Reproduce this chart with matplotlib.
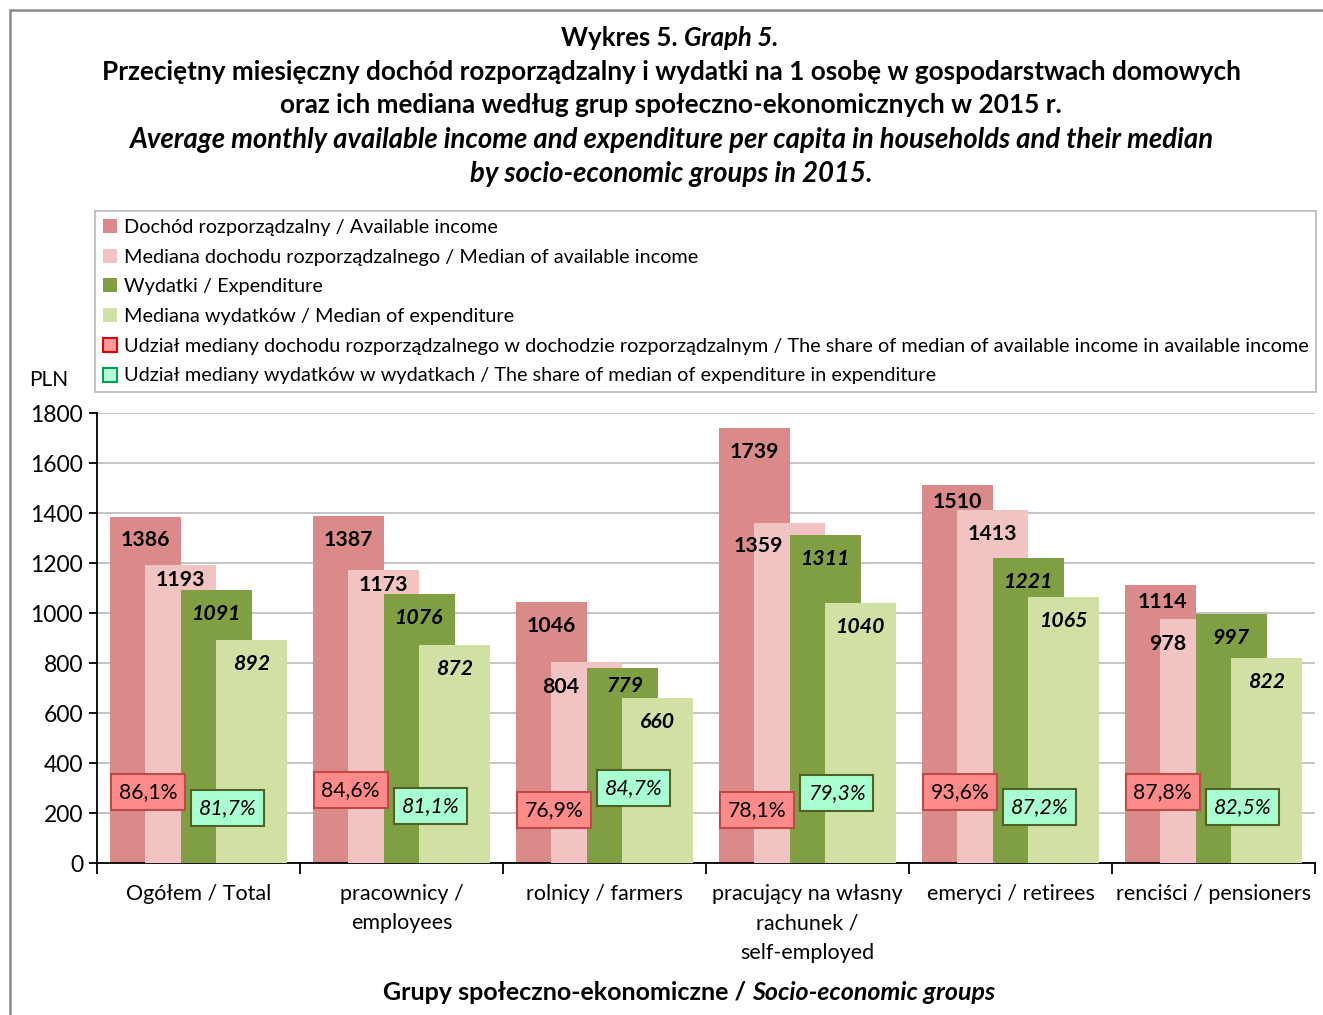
import matplotlib
matplotlib.use('Agg')
import matplotlib.pyplot as plt
import numpy as np
from matplotlib.patches import Patch, Rectangle

plt.rcParams['font.family'] = ['Lato', 'DejaVu Sans']

# ---------------- data ----------------
categories = ['Ogółem / Total', 'pracownicy /\nemployees', 'rolnicy / farmers',
              'pracujący na własny\nrachunek /\nself-employed', 'emeryci / retirees',
              'renciści / pensioners']
income = [1386, 1387, 1046, 1739, 1510, 1114]
income_median = [1193, 1173, 804, 1359, 1413, 978]
expenditure = [1091, 1076, 779, 1311, 1221, 997]
expenditure_median = [892, 872, 660, 1040, 1065, 822]
share_income = [86.1, 84.6, 76.9, 78.1, 93.6, 87.8]
share_expenditure = [81.7, 81.1, 84.7, 79.3, 87.2, 82.5]
y_ticks = [0, 200, 400, 600, 800, 1000, 1200, 1400, 1600, 1800]

series_labels = ['Dochód rozporządzalny / Available income',
                 'Mediana dochodu rozporządzalnego / Median of available income',
                 'Wydatki / Expenditure',
                 'Mediana wydatków / Median of expenditure']
share_labels = ['Udział mediany dochodu rozporządzalnego w dochodzie rozporządzalnym / The share of median of available income in available income',
                'Udział mediany wydatków w wydatkach / The share of median of expenditure in expenditure']

# ---------------- style ----------------
W, H = 1323, 1015
col = ['#DA8A88', '#F2C3C3', '#809E42', '#D0E1A3']
red_box_fc, red_box_ec = '#FF8A8A', '#BE4B48'
grn_box_fc, grn_box_ec = '#A8FFD2', '#4F6228'

fig = plt.figure(figsize=(W / 100, H / 100), dpi=100)
fig.patch.set_facecolor('white')
ax = fig.add_axes([97 / W, 1 - 863 / H, (1315 - 97) / W, 450 / H])

x = np.arange(len(categories))
offsets = [-0.2625, -0.0875, 0.0875, 0.2625]
bw = 0.35
series = [income, income_median, expenditure, expenditure_median]
for k, (vals, c) in enumerate(zip(series, col)):
    ax.bar(x + offsets[k], vals, bw, color=c, zorder=2 + k, linewidth=0)

ax.set_xlim(-0.5, len(categories) - 0.5)
ax.set_ylim(0, 1800)
ax.set_yticks(y_ticks)
ax.set_yticklabels([str(t) for t in y_ticks], fontsize=16.5)
ax.yaxis.grid(True, color='#BFBFBF', linewidth=1.3, zorder=0)
ax.set_axisbelow(True)
for s in ['top', 'right']:
    ax.spines[s].set_visible(False)
ax.spines['left'].set_linewidth(1.3)
ax.spines['bottom'].set_linewidth(1.3)
ax.tick_params(axis='y', length=6, width=1.3, pad=4)
ax.set_xticks(np.arange(len(categories) + 1) - 0.5)
ax.set_xticklabels([])
ax.tick_params(axis='x', which='major', length=8, width=1.3)
ax.set_xticks(x, minor=True)
ax.set_xticklabels(categories, minor=True, fontsize=15.5, linespacing=1.6)
ax.tick_params(axis='x', which='minor', length=0, pad=15)

# value labels (offsets in pixels from bar top / centre)
special = {(0, 1): (0, -15), (1, 1): (0, -15), (2, 1): (-26, -25), (2, 2): (3, -18),
           (3, 1): (-31, -23), (4, 0): (0, -17), (5, 0): (2, -17), (5, 1): (-28, -25)}
for k, vals in enumerate(series):
    for i, v in enumerate(vals):
        dx, dy = special.get((i, k), (0, -24))
        ax.annotate(str(v), xy=(i + offsets[k], v), xytext=(dx, dy),
                    textcoords='offset pixels', ha='center', va='center',
                    fontsize=15.3, fontweight='bold',
                    fontstyle='italic' if k >= 2 else 'normal', zorder=10)

# share boxes
share_income_label_y = [284, 292, 212, 212, 284, 284]
share_exp_label_y = [220, 228, 300, 280, 224, 224]
for i in range(len(categories)):
    ax.text(i - 0.25, share_income_label_y[i], f'{share_income[i]:.1f}%'.replace('.', ','),
            ha='center', va='center', fontsize=15.3, zorder=11,
            bbox=dict(boxstyle='square,pad=0.36', fc=red_box_fc, ec=red_box_ec, lw=1.5))
    ax.text(i + 0.145, share_exp_label_y[i], f'{share_expenditure[i]:.1f}%'.replace('.', ','),
            ha='center', va='center', fontsize=15.3, fontstyle='italic', zorder=11,
            bbox=dict(boxstyle='square,pad=0.36', fc=grn_box_fc, ec=grn_box_ec, lw=1.5))

# legend
handles = [Patch(fc=c, ec='none') for c in col]
handles += [Patch(fc='#FF9A9A', ec='#E00000', lw=1.5), Patch(fc='#B5FFD8', ec='#00A050', lw=1.5)]
leg = fig.legend(handles, series_labels + share_labels, loc='upper left',
                 bbox_to_anchor=(95 / W, 1 - 211 / H), frameon=True, fancybox=False,
                 edgecolor='#A6A6A6', borderaxespad=0, handlelength=0.7, handleheight=0.7,
                 handletextpad=0.35, labelspacing=0.64, borderpad=0.4, fontsize=14.3)
leg.get_frame().set_linewidth(1.2)

fig.text(49 / W, 1 - 380 / H, 'PLN', ha='center', va='center', fontsize=15)

# mixed-style text helper
renderer = fig.canvas.get_renderer()


def mixed(y_px, parts, cx_px, size):
    texts = []
    widths = []
    for s, st in parts:
        t = fig.text(0, 1 - y_px / H, s, fontsize=size, fontweight='bold', fontstyle=st,
                     va='center', ha='left')
        texts.append(t)
        widths.append(t.get_window_extent(renderer).width)
    total = sum(widths)
    xpos = cx_px - total / 2
    for t, w in zip(texts, widths):
        t.set_x(xpos / W)
        xpos += w


mixed(38, [('Wykres 5. ', 'normal'), ('Graph 5.', 'italic')], 670, 18.5)
fig.text(671 / W, 1 - 72 / H, 'Przeciętny miesięczny dochód rozporządzalny i wydatki na 1 osobę w gospodarstwach domowych',
         ha='center', va='center', fontsize=18.8, fontweight='bold')
fig.text(671 / W, 1 - 105 / H, 'oraz ich mediana według grup społeczno-ekonomicznych w 2015 r.',
         ha='center', va='center', fontsize=18.8, fontweight='bold')
fig.text(671 / W, 1 - 140 / H, 'Average monthly available income and expenditure per capita in households and their median',
         ha='center', va='center', fontsize=19.8, fontweight='bold', fontstyle='italic')
fig.text(671 / W, 1 - 174 / H, 'by socio-economic groups in 2015.',
         ha='center', va='center', fontsize=19.8, fontweight='bold', fontstyle='italic')
mixed(993, [('Grupy społeczno-ekonomiczne / ', 'normal'), ('Socio-economic groups', 'italic')], 689, 18)

# outer frame
fig.add_artist(Rectangle((10 / W, -0.5), 2, 1.5 - 10 / H, transform=fig.transFigure,
                         fill=False, ec='#8C8C8C', lw=1.8, clip_on=False))

fig.savefig('out.png', dpi=100)
